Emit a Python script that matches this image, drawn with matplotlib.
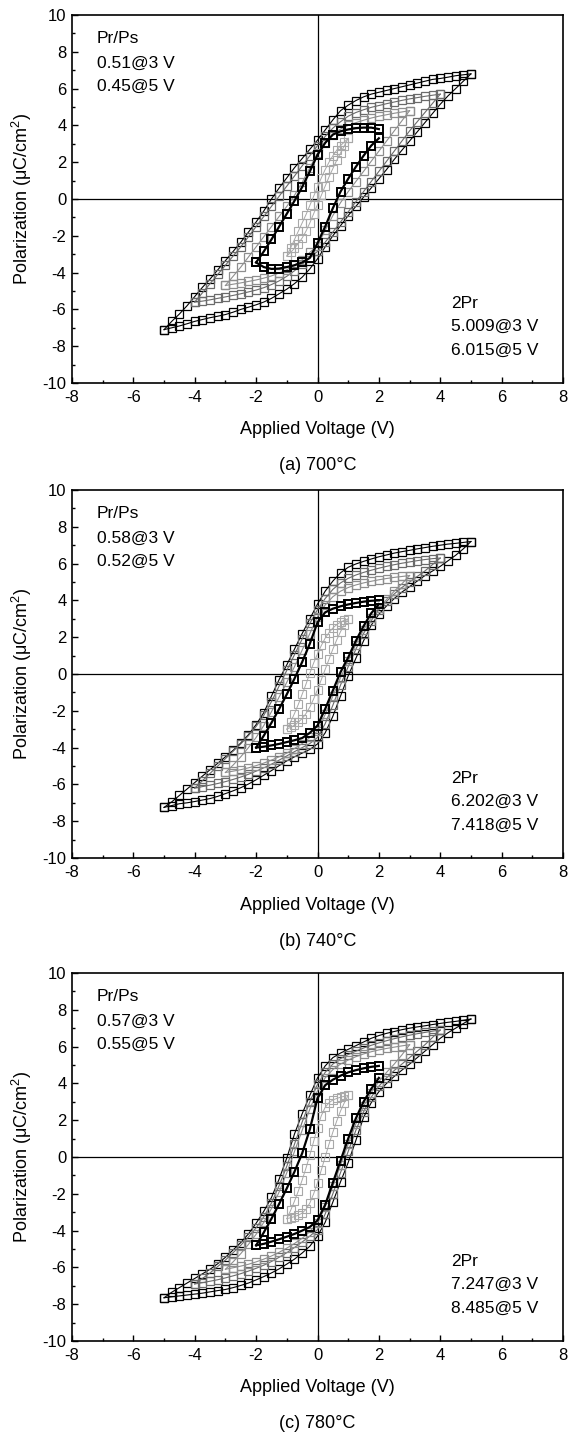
import numpy as np
import matplotlib
matplotlib.use("Agg")
import matplotlib.pyplot as plt
from matplotlib.ticker import MultipleLocator

plt.rcParams['font.family'] = ['Liberation Sans', 'DejaVu Sans']
plt.rcParams['mathtext.default'] = 'regular'
plt.rcParams['axes.unicode_minus'] = False

# voltage sweeps of each loop (V)
V1 = np.linspace(-1, 1, 17)
V2 = np.linspace(-2, 2, 17)
V3 = np.linspace(-3, 3, 25)
V4 = np.linspace(-4, 4, 33)
V5 = np.linspace(-5, 5, 41)

# (a) 700 C  - polarization (uC/cm2), "up" = falling sweep, "lo" = rising sweep
a5_up = [-7.1, -6.65, -6.25, -5.8, -5.3, -4.8, -4.35, -3.85, -3.35, -2.85, -2.35, -1.8, -1.25, -0.65, 0.0, 0.6,
         1.15, 1.7, 2.2, 2.7, 3.2, 3.75, 4.3, 4.8, 5.1, 5.35, 5.55, 5.7, 5.8, 5.9, 6.0, 6.1, 6.2, 6.3, 6.4, 6.5,
         6.55, 6.62, 6.7, 6.75, 6.8]
a5_lo = [-7.1, -7.0, -6.9, -6.78, -6.65, -6.55, -6.45, -6.37, -6.28, -6.15, -6.0, -5.88, -5.75, -5.6, -5.4, -5.15,
         -4.9, -4.6, -4.25, -3.8, -3.25, -2.6, -2.0, -1.45, -0.9, -0.4, 0.1, 0.6, 1.1, 1.6, 2.15, 2.65, 3.15, 3.65,
         4.15, 4.65, 5.15, 5.6, 6.0, 6.4, 6.8]
a4_up = [-5.6, -5.1, -4.6, -4.1, -3.6, -3.1, -2.6, -2.05, -1.5, -0.95, -0.4, 0.15, 0.7, 1.25, 1.8, 2.35, 2.9, 3.4,
         3.85, 4.2, 4.5, 4.7, 4.85, 4.98, 5.08, 5.18, 5.27, 5.36, 5.44, 5.51, 5.58, 5.64, 5.7]
a4_lo = [-5.6, -5.55, -5.48, -5.4, -5.32, -5.24, -5.15, -5.05, -4.95, -4.82, -4.65, -4.45, -4.2, -3.9, -3.55, -3.2,
         -2.85, -2.35, -1.8, -1.25, -0.7, -0.15, 0.4, 0.95, 1.5, 2.05, 2.6, 3.15, 3.7, 4.2, 4.7, 5.2, 5.7]
a3_up = [-4.7, -4.2, -3.7, -3.15, -2.6, -2.05, -1.5, -0.95, -0.4, 0.2, 0.9, 1.7, 2.5, 3.05, 3.5, 3.8, 4.0, 4.15,
         4.28, 4.4, 4.5, 4.58, 4.66, 4.73, 4.8]
a3_lo = [-4.7, -4.63, -4.56, -4.48, -4.4, -4.3, -4.18, -4.02, -3.85, -3.6, -3.3, -2.9, -2.55, -1.7, -0.9, -0.2,
         0.4, 0.95, 1.5, 2.05, 2.6, 3.15, 3.7, 4.25, 4.8]
a2_up = [-3.45, -2.85, -2.2, -1.5, -0.8, -0.1, 0.65, 1.5, 2.4, 3.05, 3.5, 3.68, 3.78, 3.85, 3.88, 3.88, 3.8]
a2_lo = [-3.45, -3.7, -3.8, -3.78, -3.7, -3.6, -3.45, -3.2, -2.4, -1.5, -0.5, 0.4, 1.1, 1.75, 2.35, 2.9, 3.3]
a1_up = [-3.1, -2.65, -2.2, -1.75, -1.3, -0.85, -0.35, 0.15, 0.65, 1.15, 1.6, 2.0, 2.35, 2.65, 2.9, 3.1, 3.3]
a1_lo = [-3.1, -2.9, -2.68, -2.42, -2.12, -1.75, -1.3, -0.8, -0.3, 0.2, 0.7, 1.2, 1.65, 2.1, 2.5, 2.9, 3.3]

# (b) 740 C
b5_up = [-7.25, -6.95, -6.6, -6.25, -5.9, -5.55, -5.2, -4.85, -4.5, -4.15, -3.75, -3.3, -2.75, -2.1, -1.2, -0.3,
         0.5, 1.35, 2.2, 3.0, 3.8, 4.5, 5.05, 5.5, 5.8, 5.98, 6.12, 6.25, 6.37, 6.47, 6.57, 6.65, 6.72, 6.8, 6.87,
         6.94, 7.0, 7.06, 7.1, 7.15, 7.2]
b5_lo = [-7.25, -7.15, -7.05, -7.0, -6.93, -6.85, -6.77, -6.65, -6.5, -6.35, -6.18, -5.98, -5.75, -5.5, -5.25,
         -4.98, -4.72, -4.5, -4.3, -4.1, -3.8, -3.2, -2.3, -1.2, -0.1, 0.85, 1.8, 2.65, 3.25, 3.7, 4.1, 4.45, 4.75,
         5.05, 5.35, 5.6, 5.85, 6.15, 6.45, 6.8, 7.2]
b4_up = [-6.2, -5.8, -5.4, -5.0, -4.6, -4.2, -3.8, -3.35, -2.85, -2.25, -1.5, -0.65, 0.2, 1.05, 1.9, 2.75, 3.5, 4.1,
         4.6, 4.95, 5.2, 5.38, 5.52, 5.64, 5.75, 5.85, 5.94, 6.02, 6.09, 6.16, 6.22, 6.27, 6.3]
b4_lo = [-6.2, -6.12, -6.04, -5.95, -5.85, -5.73, -5.6, -5.45, -5.28, -5.1, -4.9, -4.68, -4.45, -4.22, -4.0, -3.78,
         -3.45, -2.7, -1.7, -0.6, 0.4, 1.35, 2.2, 2.9, 3.5, 3.95, 4.35, 4.7, 5.0, 5.3, 5.6, 5.95, 6.3]
b3_up = [-5.35, -4.95, -4.5, -4.0, -3.45, -2.8, -2.05, -1.25, -0.45, 0.4, 1.3, 2.2, 3.1, 3.75, 4.2, 4.5, 4.7, 4.84,
         4.95, 5.04, 5.12, 5.19, 5.25, 5.3, 5.35]
b3_lo = [-5.35, -5.28, -5.2, -5.1, -4.98, -4.84, -4.68, -4.5, -4.3, -4.05, -3.78, -3.45, -3.1, -2.2, -1.2, -0.2,
         0.7, 1.6, 2.4, 3.05, 3.6, 4.05, 4.5, 4.9, 5.35]
b2_up = [-4.0, -3.35, -2.65, -1.9, -1.1, -0.25, 0.65, 1.65, 2.8, 3.35, 3.55, 3.68, 3.78, 3.86, 3.93, 3.98, 4.0]
b2_lo = [-4.0, -3.95, -3.88, -3.8, -3.7, -3.6, -3.48, -3.2, -2.8, -1.9, -0.9, 0.1, 0.9, 1.8, 2.6, 3.3, 3.8]
b1_up = [-3.0, -2.6, -2.15, -1.65, -1.1, -0.55, 0.05, 0.6, 1.1, 1.55, 1.95, 2.25, 2.5, 2.68, 2.82, 2.92, 3.0]
b1_lo = [-3.0, -2.9, -2.78, -2.62, -2.42, -2.15, -1.8, -1.35, -0.85, -0.3, 0.25, 0.8, 1.35, 1.85, 2.3, 2.68, 3.0]

# (c) 780 C
c5_up = [-7.65, -7.35, -7.1, -6.85, -6.6, -6.35, -6.1, -5.8, -5.45, -5.05, -4.65, -4.18, -3.6, -2.95, -2.2, -1.2,
         -0.05, 1.25, 2.35, 3.35, 4.3, 4.95, 5.4, 5.65, 5.85, 6.05, 6.25, 6.45, 6.6, 6.72, 6.82, 6.92, 7.0, 7.07,
         7.13, 7.2, 7.26, 7.32, 7.37, 7.43, 7.5]
c5_lo = [-7.65, -7.6, -7.55, -7.5, -7.45, -7.4, -7.33, -7.26, -7.2, -7.1, -6.98, -6.85, -6.68, -6.5, -6.3, -6.08,
         -5.82, -5.55, -5.22, -4.85, -4.3, -3.55, -2.45, -1.35, -0.3, 0.9, 2.15, 2.95, 3.55, 4.0, 4.38, 4.72, 5.05,
         5.4, 5.75, 6.1, 6.45, 6.75, 7.0, 7.25, 7.5]
c4_up = [-6.9, -6.6, -6.3, -5.95, -5.6, -5.2, -4.8, -4.35, -3.85, -3.25, -2.5, -1.55, -0.5, 0.7, 1.9, 3.0, 3.95, 4.6,
         5.05, 5.35, 5.57, 5.75, 5.92, 6.07, 6.2, 6.32, 6.43, 6.53, 6.62, 6.7, 6.77, 6.84, 6.9]
c4_lo = [-6.9, -6.83, -6.75, -6.67, -6.57, -6.46, -6.34, -6.2, -6.05, -5.88, -5.68, -5.45, -5.2, -4.92, -4.62, -4.3,
         -3.95, -3.1, -2.0, -0.85, 0.3, 1.45, 2.45, 3.25, 3.85, 4.3, 4.7, 5.05, 5.4, 5.75, 6.1, 6.5, 6.9]
c3_up = [-6.1, -5.7, -5.25, -4.75, -4.2, -3.55, -2.8, -1.9, -0.85, 0.3, 1.45, 2.6, 3.6, 4.3, 4.75, 5.05, 5.27, 5.45,
         5.6, 5.72, 5.82, 5.9, 5.97, 6.04, 6.1]
c3_lo = [-6.1, -6.02, -5.93, -5.83, -5.7, -5.55, -5.38, -5.18, -4.95, -4.7, -4.42, -4.05, -3.6, -2.7, -1.6, -0.45,
         0.7, 1.8, 2.75, 3.5, 4.1, 4.6, 5.05, 5.55, 6.1]
c2_up = [-4.8, -4.1, -3.35, -2.55, -1.7, -0.8, 0.2, 1.5, 3.2, 3.9, 4.2, 4.42, 4.6, 4.72, 4.82, 4.9, 4.95]
c2_lo = [-4.8, -4.72, -4.6, -4.47, -4.33, -4.18, -4.0, -3.8, -3.45, -2.6, -1.4, -0.2, 1.0, 2.1, 3.0, 3.7, 4.3]
c1_up = [-3.35, -2.9, -2.4, -1.85, -1.25, -0.6, 0.1, 0.85, 1.6, 2.25, 2.7, 2.95, 3.1, 3.18, 3.25, 3.3, 3.35]
c1_lo = [-3.35, -3.3, -3.24, -3.16, -3.05, -2.85, -2.5, -2.0, -1.4, -0.7, 0.0, 0.7, 1.35, 1.95, 2.5, 2.95, 3.35]

titles = ["(a) 700°C", "(b) 740°C", "(c) 780°C"]
prps = [["0.51@3 V", "0.45@5 V"], ["0.58@3 V", "0.52@5 V"], ["0.57@3 V", "0.55@5 V"]]
twopr = [["5.009@3 V", "6.015@5 V"], ["6.202@3 V", "7.418@5 V"], ["7.247@3 V", "8.485@5 V"]]

panels = [
    [(V5, a5_up, a5_lo), (V4, a4_up, a4_lo), (V3, a3_up, a3_lo), (V1, a1_up, a1_lo), (V2, a2_up, a2_lo)],
    [(V5, b5_up, b5_lo), (V4, b4_up, b4_lo), (V3, b3_up, b3_lo), (V1, b1_up, b1_lo), (V2, b2_up, b2_lo)],
    [(V5, c5_up, c5_lo), (V4, c4_up, c4_lo), (V3, c3_up, c3_lo), (V1, c1_up, c1_lo), (V2, c2_up, c2_lo)],
]
# style per loop, same order as above: 5 V, 4 V, 3 V, 1 V, 2 V  (colour, marker edge, line width)
loop_style = [("black", 0.9, 0.8), ("#6a6a6a", 0.9, 0.8), ("#8e8e8e", 0.9, 0.8),
              ("#a8a8a8", 0.8, 0.7), ("black", 1.4, 1.6)]

W, H = 571, 1435
fig = plt.figure(figsize=(W / 100, H / 100), dpi=100)

ax_left, ax_right = 72, 563
ax_tops = [15, 490, 973]
ax_h = 368

for i in range(3):
    top = ax_tops[i]
    ax = fig.add_axes([ax_left / W, (H - top - ax_h) / H, (ax_right - ax_left) / W, ax_h / H])

    for (v, up, lo), (col, mew, lw) in zip(panels[i], loop_style):
        for branch in (up, lo):
            ax.plot(v, branch, ls="-", lw=lw, color=col, marker="s", ms=5.2,
                    mfc="none", mec=col, mew=mew)

    ax.axhline(0, color="black", lw=0.9, zorder=0)
    ax.axvline(0, color="black", lw=0.9, zorder=0)

    ax.set_xlim(-8, 8)
    ax.set_ylim(-10, 10)
    ax.xaxis.set_major_locator(MultipleLocator(2))
    ax.xaxis.set_minor_locator(MultipleLocator(1))
    ax.yaxis.set_major_locator(MultipleLocator(2))
    ax.yaxis.set_minor_locator(MultipleLocator(1))
    ax.tick_params(which="both", direction="in", labelsize=12, width=1)
    ax.tick_params(which="major", length=4.5)
    ax.tick_params(which="minor", length=2.5)
    ax.tick_params(axis="x", pad=5)
    ax.tick_params(axis="y", pad=4)
    for s in ax.spines.values():
        s.set_linewidth(1.2)

    ax.text(0.05, 0.935, "Pr/Ps", transform=ax.transAxes, fontsize=12.5, va="center")
    ax.text(0.05, 0.868, prps[i][0], transform=ax.transAxes, fontsize=12.5, va="center")
    ax.text(0.05, 0.806, prps[i][1], transform=ax.transAxes, fontsize=12.5, va="center")
    ax.text(0.772, 0.217, "2Pr", transform=ax.transAxes, fontsize=12.5, va="center")
    ax.text(0.772, 0.153, twopr[i][0], transform=ax.transAxes, fontsize=12.5, va="center")
    ax.text(0.772, 0.09, twopr[i][1], transform=ax.transAxes, fontsize=12.5, va="center")

    bottom = top + ax_h
    xc = (ax_left + ax_right) / 2 / W
    fig.text(xc, 1 - (bottom + 47) / H, "Applied Voltage (V)", fontsize=13, ha="center", va="center")
    fig.text(xc, 1 - (bottom + 83) / H, titles[i], fontsize=13, ha="center", va="center")
    fig.text(22 / W, 1 - (top + ax_h / 2) / H, "Polarization (μC/cm$^{2}$)", fontsize=13,
             rotation=90, ha="center", va="center")

fig.savefig("out.png", dpi=100)
